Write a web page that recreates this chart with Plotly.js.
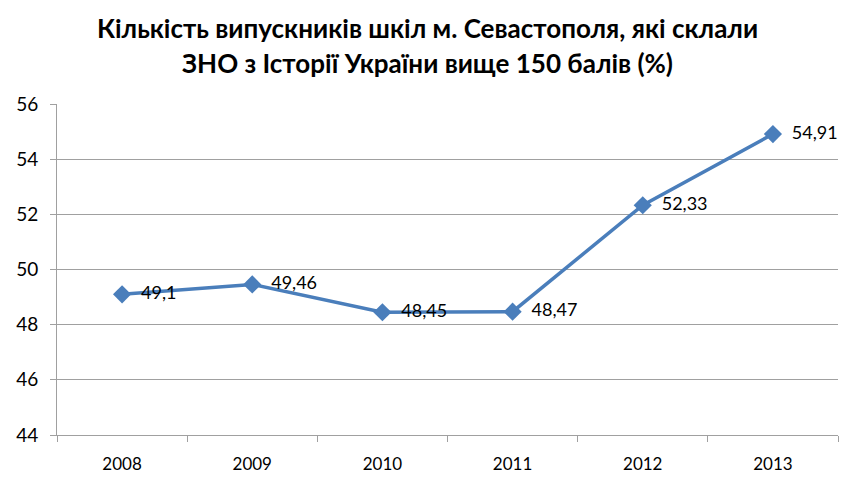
<!DOCTYPE html>
<html>
<head>
<meta charset="utf-8">
<script src="https://cdn.plot.ly/plotly-3.0.1.min.js"></script>
<style>html,body{margin:0;padding:0;background:#fff}#chart{width:861px;height:499px}</style>
</head>
<body>
<div id="chart"></div>
<script>
const years = ['2008', '2009', '2010', '2011', '2012', '2013'];
const values = [49.1, 49.46, 48.45, 48.47, 52.33, 54.91];
const labels = ['49,1', '49,46', '48,45', '48,47', '52,33', '54,91'];
const yTicks = [44, 46, 48, 50, 52, 54, 56];
const titleLines = ['Кількість випускників шкіл м. Севастополя, які склали', 'ЗНО з Історії України вище 150 балів (%)'];

const trace = {
  x: years,
  y: values,
  type: 'scatter',
  mode: 'lines+markers+text',
  text: labels.map(t => '\u00a0\u00a0' + t),
  textposition: 'middle right',
  textfont: {family: 'Lato, sans-serif', size: 18, color: '#000'},
  line: {color: '#4a7ebb', width: 3.5},
  marker: {symbol: 'diamond', size: 14, color: '#4a7ebb'},
  hoverinfo: 'none',
  cliponaxis: false
};

const layout = {
  width: 861, height: 499,
  margin: {l: 57, r: 23, t: 104, b: 64},
  paper_bgcolor: '#fff', plot_bgcolor: '#fff',
  showlegend: false,
  annotations: titleLines.map((t, i) => ({
    text: '<b>' + t + '</b>', xref: 'paper', yref: 'paper',
    x: 0.475, xanchor: 'center', y: 1, yanchor: 'middle',
    yshift: 76 - i * 35, showarrow: false,
    font: {family: 'Lato, sans-serif', size: 26, color: '#000'}
  })),
  xaxis: {
    type: 'category', range: [-0.5, 5.5],
    showline: true, linecolor: '#a0a0a0', linewidth: 1,
    ticks: 'outside', tickson: 'boundaries', ticklen: 6, tickcolor: '#a0a0a0',
    showgrid: false, zeroline: false, ticklabelstandoff: 14,
    tickfont: {family: 'Lato, sans-serif', size: 17, color: '#000'}
  },
  yaxis: {
    range: [44, 56], tickvals: yTicks, ticktext: yTicks.map(String),
    showline: true, linecolor: '#a0a0a0', linewidth: 1,
    ticks: 'outside', ticklen: 6, tickcolor: '#a0a0a0',
    showgrid: true, gridcolor: '#a0a0a0', gridwidth: 1, zeroline: false,
    ticklabelstandoff: 8,
    tickfont: {family: 'Lato, sans-serif', size: 19, color: '#000'}
  }
};

Plotly.newPlot('chart', [trace], layout, {displayModeBar: false, staticPlot: true});
</script>
</body>
</html>
